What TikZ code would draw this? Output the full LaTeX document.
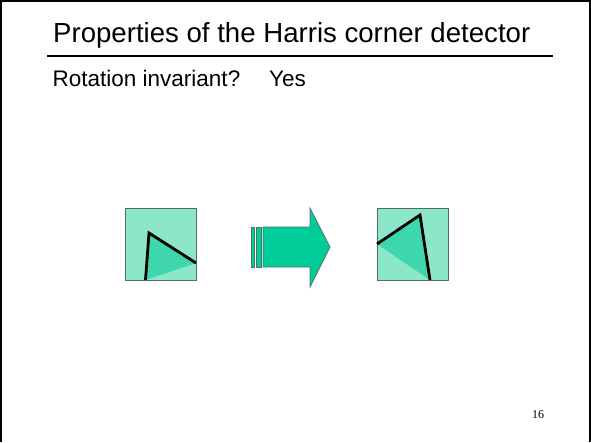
\documentclass[tikz,border=0pt]{standalone}
\usepackage{fontspec}
\setmainfont{Liberation Sans}
\newfontfamily\numfont{Liberation Serif}
\usepackage{xcolor}
\usetikzlibrary{positioning}
\definecolor{patchlight}{RGB}{140,230,202}
\definecolor{patchdark}{RGB}{62,214,172}
\definecolor{patchedge}{RGB}{80,112,100}
\definecolor{arrowgreen}{RGB}{0,204,153}
\tikzset{
  patch/.style={fill=patchlight,draw=patchedge,line width=0.9pt},
  edge/.style={line width=2.8pt,line cap=butt,line join=miter},
  txt/.style={inner sep=0pt,anchor=base west}
}
\begin{document}
\begin{tikzpicture}[x=1pt,y=-1pt]
  \useasboundingbox (0,0) rectangle (591,442);
  \draw[line width=2pt] (1,442) -- (1,1) -- (589.5,1) -- (589.5,442);
  % title
  \node[txt,font=\fontsize{27.6}{30}\selectfont] (title) at (53,42.3) {Properties of the Harris corner detector};
  \draw[line width=2pt] (47,56) -- (553,56);
  \node[txt,font=\fontsize{22.5}{25}\selectfont] (q) at (52.5,86) {Rotation invariant?};
  \node[txt,font=\fontsize{22.5}{25}\selectfont] (a) at (269,86) {Yes};
  % left patch
  \draw[patch] (125,208) rectangle (196,280);
  \fill[patchdark] (149,233) -- (145.5,280) -- (196,263) -- cycle;
  \draw[edge] (145.5,280) -- (149,233) -- (196,263);
  % arrow
  \draw[fill=arrowgreen,draw=patchedge,line width=0.7pt] (251,227) rectangle (254,267);
  \draw[fill=arrowgreen,draw=patchedge,line width=0.7pt] (256,227) rectangle (261,267);
  \draw[fill=arrowgreen,draw=patchedge,line width=0.7pt]
    (263,227) -- (310,227) -- (310,208) -- (330,247) -- (310,287) -- (310,267) -- (263,267) -- cycle;
  % right patch
  \draw[patch] (377,208) rectangle (448,280);
  \fill[patchdark] (420,215) -- (377,244) -- (430,280) -- cycle;
  \draw[edge] (377,244) -- (420,215) -- (430,280);
  % page number
  \node[font=\numfont\fontsize{12}{13}\selectfont] (page) at (538,415) {16};
\end{tikzpicture}
\end{document}
